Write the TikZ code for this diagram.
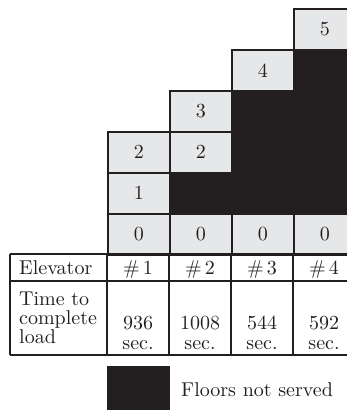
\documentclass[tikz,border=0pt]{standalone}
\usepackage{fontspec}
\setmainfont{lmroman10-regular}[Extension=.otf]
\definecolor{cellgray}{HTML}{E6E7E8}
\definecolor{ink}{HTML}{231F20}
\begin{document}
\begin{tikzpicture}[x=1pt,y=-1pt,
  every node/.style={font=\fontsize{20}{19}\selectfont, inner sep=0pt, text=ink},
  cell/.style={draw=ink, line width=1.5pt, fill=cellgray, minimum width=62pt, minimum height=41pt, anchor=north west},
  blk/.style={fill=ink, draw=ink, line width=1.5pt, minimum width=62pt, minimum height=41pt, anchor=north west},
  rule/.style={draw=ink, line width=1.8pt}]
\useasboundingbox (0,0) rectangle (347,410);
% black (not served) cells
\node[blk] (b21) at (169,172) {};
\node[blk] (b31) at (231,172) {};
\node[blk] (b32) at (231,131) {};
\node[blk] (b33) at (231,90) {};
\node[blk] (b41) at (293,172) {};
\node[blk] (b42) at (293,131) {};
\node[blk] (b43) at (293,90) {};
\node[blk] (b44) at (293,49) {};
% grey floor cells
\node[cell] (c10) at (107,213) {0};
\node[cell] (c11) at (107,172) {1};
\node[cell] (c12) at (107,131) {2};
\node[cell] (c20) at (169,213) {0};
\node[cell] (c22) at (169,131) {2};
\node[cell] (c23) at (169,90) {3};
\node[cell] (c30) at (231,213) {0};
\node[cell] (c34) at (231,49) {4};
\node[cell] (c40) at (293,213) {0};
\node[cell] (c45) at (293,8) {5};
% table rules
\draw[rule] (10,254) -- (352,254);
\draw[rule] (10,281) -- (352,281);
\draw[rule] (10,355) -- (352,355);
\draw[rule] (10,254) -- (10,355);
\draw[rule] (107,254) -- (107,355);
\draw[rule] (169,254) -- (169,355);
\draw[rule] (231,254) -- (231,355);
\draw[rule] (293,254) -- (293,355);
% table text
\node[anchor=base west] (elev) at (19,274) {Elevator};
\node[anchor=base] (e1) at (138,274) {\#\,1};
\node[anchor=base] (e2) at (200,274) {\#\,2};
\node[anchor=base] (e3) at (262,274) {\#\,3};
\node[anchor=base] (e4) at (324,274) {\#\,4};
\node[anchor=base west] (time1) at (19,305) {Time to};
\node[anchor=base west] (time2) at (19,324) {complete};
\node[anchor=base west] (time3) at (19,343) {load};
\node[anchor=base] (t1) at (138,329) {936};
\node[anchor=base] (s1) at (138,349) {sec.};
\node[anchor=base] (t2) at (200,329) {1008};
\node[anchor=base] (s2) at (200,349) {sec.};
\node[anchor=base] (t3) at (262,329) {544};
\node[anchor=base] (s3) at (262,349) {sec.};
\node[anchor=base] (t4) at (324,329) {592};
\node[anchor=base] (s4) at (324,349) {sec.};
% legend
\node[fill=ink, minimum width=63pt, minimum height=44pt, anchor=north west] (leg) at (107,366) {};
\node[anchor=base west] (legt) at (181,396) {Floors not served};
\end{tikzpicture}
\end{document}
